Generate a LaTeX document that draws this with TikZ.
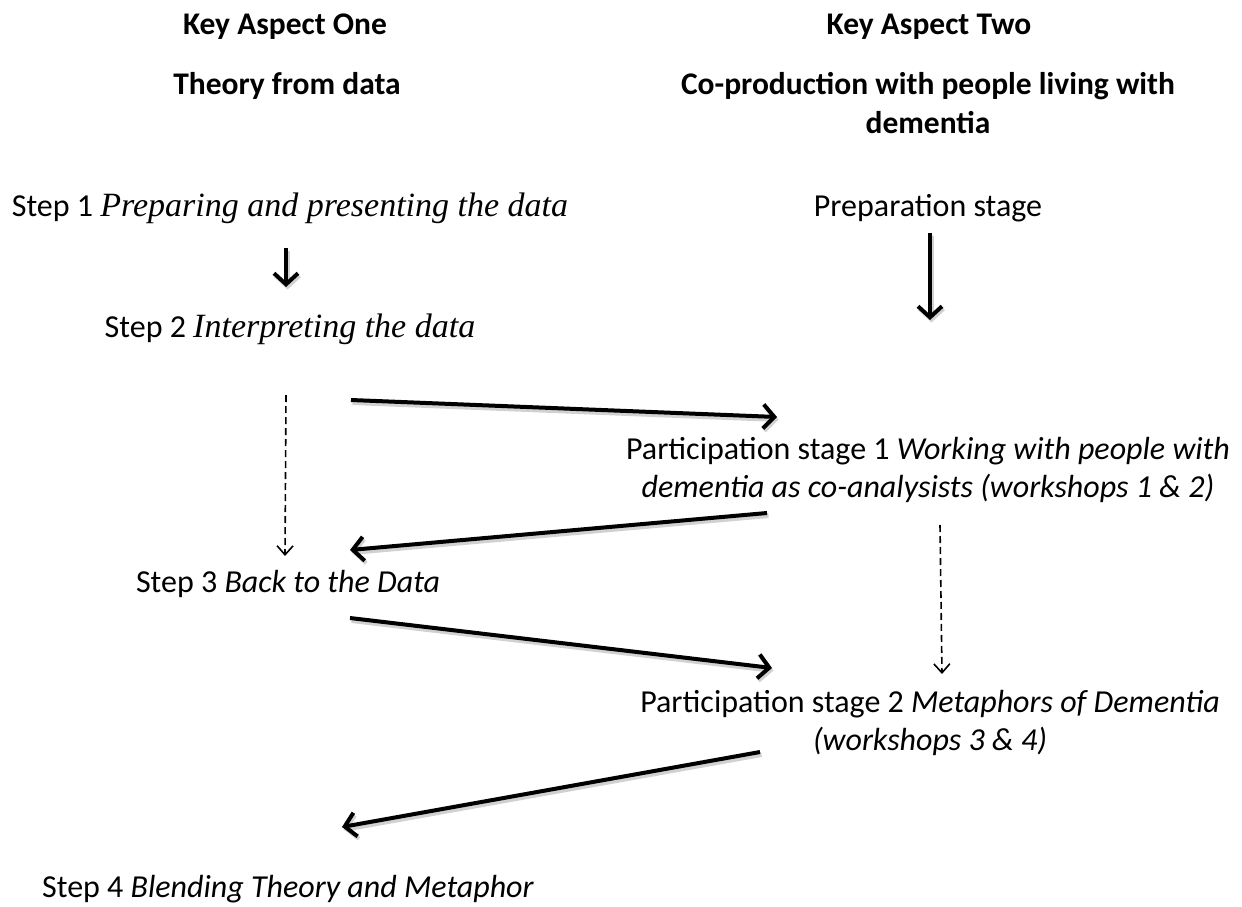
\documentclass[tikz,border=0pt]{standalone}
\usepackage{fontspec}
\setmainfont{Carlito}
\newfontfamily\camit{Liberation Serif}
\newcommand{\serifit}[1]{{\camit\itshape\fontsize{34}{40}\selectfont #1}}
\usetikzlibrary{arrows.meta,calc}
\setlength{\tabcolsep}{0pt}
\begin{document}
\begin{tikzpicture}[x=1pt,y=-1pt,
  txt/.style={font=\fontsize{32}{38}\selectfont, inner sep=0pt, anchor=base},
  hd/.style={txt, font=\fontsize{31.5}{39}\selectfont\bfseries},
  shadowed/.style={preaction={draw=black!18, line width=5pt, transform canvas={shift={(1.5pt,-2.5pt)}}}},
  solidarrow/.style={line width=4pt, -{Straight Barb[length=11pt,width=24pt,line width=4pt]}, shadowed},
  dasharrow/.style={line width=1.6pt, dash pattern=on 7pt off 4pt, -{Straight Barb[length=9pt,width=16pt,line width=1.6pt]}}]
\useasboundingbox (0,0) rectangle (1242,907);
\node[hd] (ka1) at (285,35) {Key Aspect One};
\node[hd] (th) at (287,95) {Theory from data};
\node[hd] (ka2) at (929,35) {Key Aspect Two};
\node[hd] (cp) at (928,95) {\begin{tabular}[t]{c}Co-production with people living with\\dementia\end{tabular}};
\node[txt] (s1) at (290,216) {Step 1 \serifit{Preparing and presenting the data}};
\node[txt] (ps) at (928,216) {Preparation stage};
\node[txt] (s2) at (290,337) {Step 2 \serifit{Interpreting the data}};
\node[txt] (p1) at (928,459) {\begin{tabular}[t]{c}Participation stage 1 \textit{Working with people with}\\\textit{dementia as co-analysists (workshops 1 \& 2)}\end{tabular}};
\node[txt] (s3) at (288,592) {Step 3 \textit{Back to the Data}};
\node[txt] (p2) at (930,712) {\begin{tabular}[t]{c}Participation stage 2 \textit{Metaphors of Dementia}\\\textit{(workshops 3 \& 4)}\end{tabular}};
\node[txt, anchor=base west] (s4) at (42,897) {Step 4 \textit{Blending Theory and Metaphor}};
\draw[solidarrow] ($(s1.base)+(-4,32)$) -- ($(s2.base)+(-4,-50)$);
\draw[solidarrow] ($(ps.base)+(2,17)$) -- ($(p1.base)+(2,-139)$);
\draw[dasharrow] ($(s2.base)+(-4,58)$) -- ($(s3.base)+(-3,-36)$);
\draw[solidarrow] ($(s2.base)+(61,63)$) -- ($(p1.base)+(-151,-42)$);
\draw[solidarrow] ($(p1.base)+(-161,54)$) -- ($(s3.base)+(62,-42)$);
\draw[dasharrow] ($(p1.base)+(12,66)$) -- ($(p2.base)+(12,-38)$);
\draw[solidarrow] ($(s3.base)+(62,26)$) -- ($(p2.base)+(-158,-44)$);
\draw[solidarrow] ($(p2.base)+(-170,40)$) -- ($(s4.base west)+(300,-70)$);
\end{tikzpicture}
\end{document}
